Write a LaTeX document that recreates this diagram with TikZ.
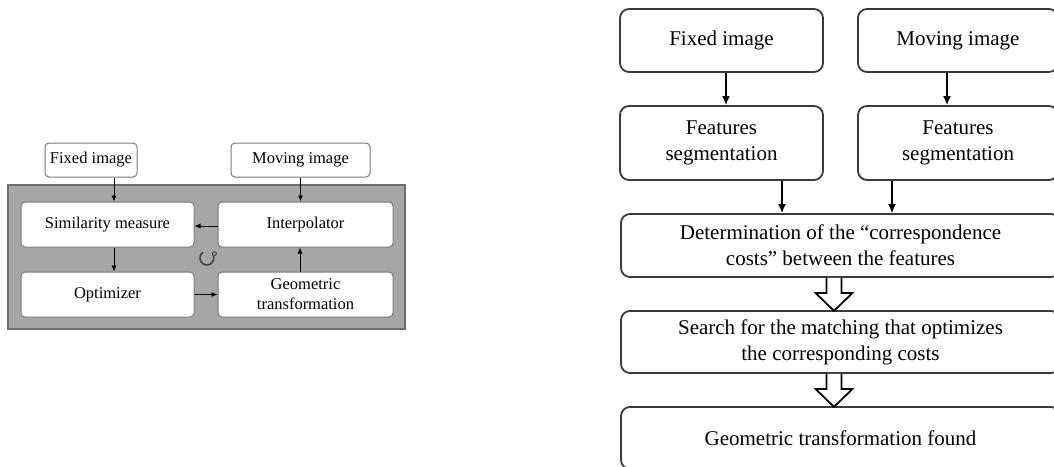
\documentclass[tikz,border=0pt]{standalone}
\usepackage{fontspec}
\setmainfont{Liberation Serif}
\usetikzlibrary{arrows.meta,calc}
\definecolor{panelgray}{HTML}{A6A6A6}
\definecolor{panelborder}{HTML}{6E6E6E}
\definecolor{lboxborder}{HTML}{7A7A7A}
\definecolor{rboxborder}{HTML}{3A3A3A}
\begin{document}
\begin{tikzpicture}[x=1pt,y=-1pt,
  lbox/.style={draw=lboxborder,line width=1pt,fill=white,rounded corners=4pt,
    inner sep=0pt,align=center,font=\fontsize{16.5}{20}\selectfont},
  rbox/.style={draw=rboxborder,line width=1.8pt,fill=white,rounded corners=9pt,
    inner sep=0pt,align=center,font=\fontsize{21}{26}\selectfont},
  larr/.style={-{Latex[length=6pt,width=5pt]},line width=0.9pt},
  rarr/.style={-{Latex[length=9pt,width=8pt]},line width=1.5pt},
  hollow/.style={draw=black,line width=1.8pt,fill=white,line join=miter}]
\useasboundingbox (0,0) rectangle (1054,466);
\fill[white] (0,0) rectangle (1054,466);

% ---------- left diagram ----------
\node[draw=panelborder,line width=1.3pt,fill=panelgray,minimum width=397pt,minimum height=144pt,inner sep=0pt] (panel) at (206.5,257) {};
\node[lbox,minimum width=92pt,minimum height=34pt] (lfix) at (91,160) {Fixed image};
\node[lbox,minimum width=139pt,minimum height=34pt] (lmov) at (300.5,160) {Moving image};
\node[lbox,minimum width=173pt,minimum height=45pt] (sim) at (107.5,224.5) {Similarity measure};
\node[lbox,minimum width=175pt,minimum height=45pt] (interp) at (305.5,224.5) {Interpolator};
\node[lbox,minimum width=173pt,minimum height=45pt] (opt) at (107.5,294.5) {Optimizer};
\node[lbox,minimum width=175pt,minimum height=45pt] (geo) at (305.5,294.5) {Geometric\\transformation};

\draw[larr] ([xshift=23pt]lfix.south) -- ([xshift=6.5pt]sim.north);
\draw[larr] (lmov.south) -- (lmov.south |- interp.north);
\draw[larr] ([yshift=-1.5pt]interp.west) -- ([yshift=-1.5pt]sim.east);
\draw[larr] ([xshift=6.5pt]sim.south) -- ([xshift=6.5pt]opt.north);
\draw[larr] (opt.east) -- (geo.west);
\draw[larr] ([xshift=-5.5pt]geo.north) -- ([xshift=-5.5pt]interp.south);

% rotation symbol
\coordinate (rot) at (207,258);
\draw[line width=1.6pt,black!75] ($(rot)+(-125:7)$) arc[start angle=-125,end angle=-380,radius=7];
\draw[line width=1pt,black!75] ($(rot)+(-30:8.5)$) circle[radius=2];

% ---------- right diagram ----------
\node[rbox,minimum width=203pt,minimum height=63pt] (rfix) at (721.5,40.5) {Fixed image};
\node[rbox,minimum width=200pt,minimum height=63pt] (rmov) at (958,40.5) {Moving image};
\node[rbox,minimum width=203pt,minimum height=74pt] (rfs1) at (721.5,143) {Features\\segmentation};
\node[rbox,minimum width=200pt,minimum height=74pt] (rfs2) at (958,143) {Features\\segmentation};
\node[rbox,minimum width=439pt,minimum height=63pt] (det) at (840.5,245.5) {Determination of the “correspondence\\costs” between the features};
\node[rbox,minimum width=439pt,minimum height=62pt] (search) at (840.5,342) {Search for the matching that optimizes\\the corresponding costs};
\node[rbox,minimum width=439pt,minimum height=62pt] (found) at (840.5,438) {Geometric transformation found};

\draw[rarr] ([xshift=4.5pt]rfix.south) -- ([xshift=4.5pt]rfs1.north);
\draw[rarr] ([xshift=-11pt]rmov.south) -- ([xshift=-11pt]rfs2.north);
\draw[rarr] ([xshift=60.5pt]rfs1.south) -- ([xshift=60.5pt]rfs1.south |- det.north);
\draw[rarr] ([xshift=-66pt]rfs2.south) -- ([xshift=-66pt]rfs2.south |- det.north);

% hollow block arrows
\coordinate (h1) at ([xshift=-6.5pt]det.south);
\draw[hollow] (h1) ++(-7.5,0) -- ++(0,15) -- ++(-11,0) -- ++(18.5,18) -- ++(18.5,-18) -- ++(-11,0) -- ++(0,-15);
\coordinate (h2) at ([xshift=-6.5pt]search.south);
\draw[hollow] (h2) ++(-7.5,0) -- ++(0,15) -- ++(-11,0) -- ++(18.5,18) -- ++(18.5,-18) -- ++(-11,0) -- ++(0,-15);
\end{tikzpicture}
\end{document}
